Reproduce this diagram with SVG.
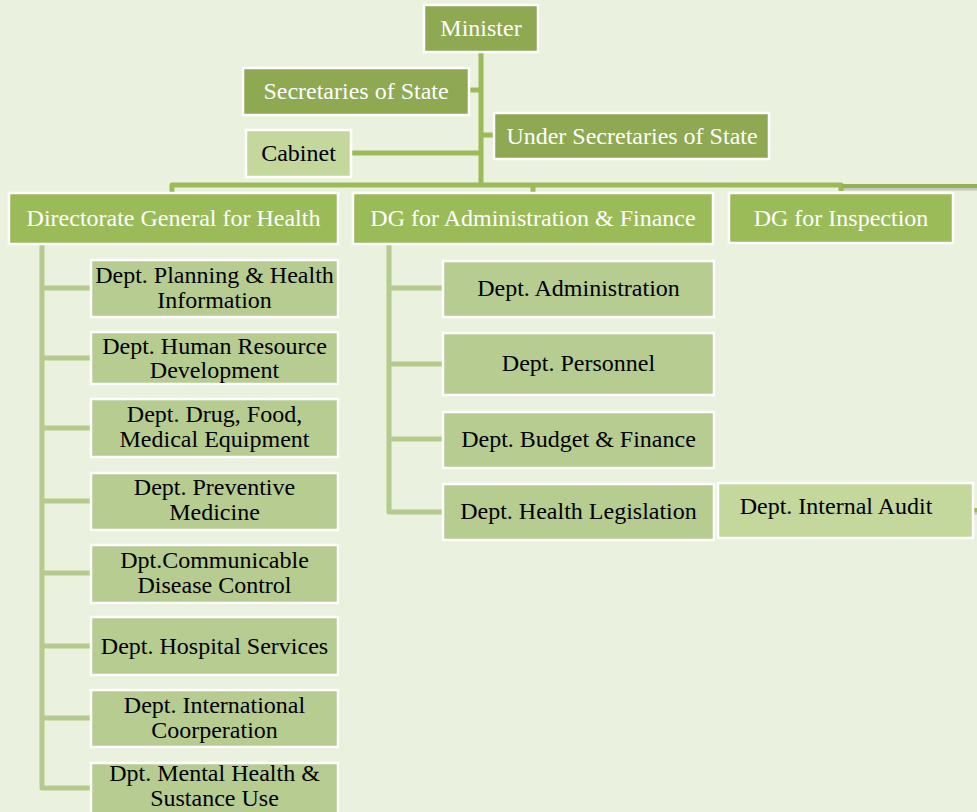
<svg xmlns="http://www.w3.org/2000/svg" width="977" height="812" viewBox="0 0 977 812">
<style>
text{font-family:"Liberation Serif","Times New Roman",serif;font-size:24px;text-anchor:middle}
.w{fill:#ffffff}
.k{fill:#000000}
.dk{fill:#8EA951;stroke:#ffffff;stroke-width:2.5}
.dg{fill:#9BBB59;stroke:#ffffff;stroke-width:2.5}
.dp{fill:#B7CC91;stroke:#ffffff;stroke-width:2.5}
.lt{fill:#C4D79C;stroke:#ffffff;stroke-width:2.5}
.c1{fill:none;stroke:#9BBB59;stroke-width:5;stroke-linejoin:round}
.c2{fill:none;stroke:#B5CB8D;stroke-width:5;stroke-linejoin:round}
.sh{fill:none;stroke:#7f7f7f;stroke-opacity:0.35;stroke-width:3}
</style>
<rect x="0" y="0" width="977" height="812" fill="#EAF1DE"/>
<g id="connectors">
  <path class="c1" d="M481 52 V185"/>
  <path class="c1" d="M469 90 H481"/>
  <path class="c1" d="M481 135 H494"/>
  <path class="c1" d="M351 153 H481"/>
  <path class="c1" d="M172 193 V185 H841 V191"/>
  <path class="c1" d="M533 185 V193"/>
  <path class="sh" d="M843 189 H977"/>
  <path class="c1" d="M841 186 H977" style="stroke:#93B253;stroke-width:4"/>
  <path class="sh" d="M973 513 H977"/>
  <path class="c1" d="M973 510 H977" style="stroke-width:4"/>
  <path class="c2" d="M42 244 V788 H91"/>
  <path class="c2" d="M42 288 H91 M42 358 H91 M42 428 H91 M42 501 H91 M42 573 H91 M42 646 H91 M42 718 H91"/>
  <path class="c2" d="M389 244 V512 H443"/>
  <path class="c2" d="M389 288 H443 M389 364 H443 M389 439 H443"/>
</g>
<g id="minister"><rect class="dk" x="424" y="5" width="114" height="47"/><text class="w" x="481" y="36">Minister</text></g>
<g id="secretaries"><rect class="dk" x="243" y="68" width="226" height="47"/><text class="w" x="356" y="99">Secretaries of State</text></g>
<g id="under-secretaries"><rect class="dk" x="494" y="113" width="275" height="46"/><text class="w" x="632" y="144">Under Secretaries of State</text></g>
<g id="cabinet"><rect class="lt" x="246" y="130" width="105" height="47"/><text class="k" x="298.5" y="161">Cabinet</text></g>
<g id="dg-health"><rect class="dg" x="9" y="193" width="329" height="51"/><text class="w" x="173.5" y="226">Directorate General for Health</text></g>
<g id="dg-admin"><rect class="dg" x="353" y="193" width="360" height="51"/><text class="w" x="533" y="226">DG for Administration &amp; Finance</text></g>
<g id="dg-inspection"><rect class="dg" x="729" y="193" width="224" height="50"/><text class="w" x="841" y="226">DG for Inspection</text></g>
<g id="dept-planning"><rect class="dp" x="91" y="260" width="247" height="57"/><text class="k" x="214.5" y="283">Dept. Planning &amp; Health</text><text class="k" x="214.5" y="308">Information</text></g>
<g id="dept-hr"><rect class="dp" x="91" y="332" width="247" height="52"/><text class="k" x="214.5" y="354">Dept. Human Resource</text><text class="k" x="214.5" y="378">Development</text></g>
<g id="dept-drug"><rect class="dp" x="91" y="399" width="247" height="58"/><text class="k" x="214.5" y="422">Dept. Drug, Food,</text><text class="k" x="214.5" y="447">Medical Equipment</text></g>
<g id="dept-preventive"><rect class="dp" x="91" y="473" width="247" height="57"/><text class="k" x="214.5" y="495">Dept. Preventive</text><text class="k" x="214.5" y="520">Medicine</text></g>
<g id="dept-communicable"><rect class="dp" x="91" y="545" width="247" height="58"/><text class="k" x="214.5" y="568">Dpt.Communicable</text><text class="k" x="214.5" y="593">Disease Control</text></g>
<g id="dept-hospital"><rect class="dp" x="91" y="617" width="247" height="58"/><text class="k" x="214.5" y="654">Dept. Hospital Services</text></g>
<g id="dept-international"><rect class="dp" x="91" y="690" width="247" height="57"/><text class="k" x="214.5" y="713">Dept. International</text><text class="k" x="214.5" y="738">Coorperation</text></g>
<g id="dept-mental"><rect class="dp" x="91" y="763" width="247" height="60"/><text class="k" x="214.5" y="781">Dpt. Mental Health &amp;</text><text class="k" x="214.5" y="806">Sustance Use</text></g>
<g id="dept-administration"><rect class="dp" x="443" y="261" width="271" height="56"/><text class="k" x="578.5" y="296">Dept. Administration</text></g>
<g id="dept-personnel"><rect class="dp" x="443" y="333" width="271" height="62"/><text class="k" x="578.5" y="371">Dept. Personnel</text></g>
<g id="dept-budget"><rect class="dp" x="443" y="412" width="271" height="56"/><text class="k" x="578.5" y="447">Dept. Budget &amp; Finance</text></g>
<g id="dept-legislation"><rect class="dp" x="443" y="484" width="271" height="56"/><text class="k" x="578.5" y="519">Dept. Health Legislation</text></g>
<g id="dept-audit"><rect class="lt" x="718" y="483" width="255" height="55"/><text class="k" x="836" y="514">Dept. Internal Audit</text></g>
</svg>
